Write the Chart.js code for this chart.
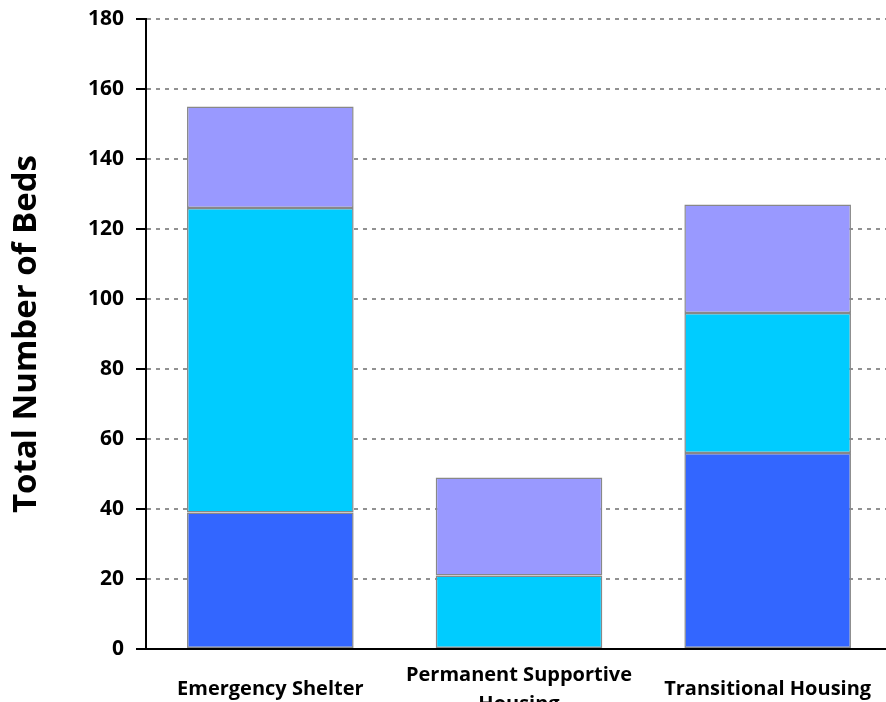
<!DOCTYPE html>
<html>
<head>
<meta charset="utf-8">
<script src="https://cdn.jsdelivr.net/npm/chart.js@4.4.1/dist/chart.umd.min.js"></script>
<style>
  html, body { margin: 0; padding: 0; background: #fff; overflow: hidden; }
  #wrap { width: 886px; height: 702px; overflow: hidden; position: relative; }
  #chart { position: absolute; left: 0; top: 0; }
</style>
</head>
<body>
<div id="wrap"><canvas id="chart" width="892" height="702" style="width:892px;height:702px"></canvas></div>
<script>
const categories = ["Emergency Shelter", ["Permanent Supportive", "Housing"], "Transitional Housing"];
const seriesA = [39, 0, 56];
const seriesB = [87, 21, 40];
const seriesC = [29, 28, 31];
const yTicks = [0, 20, 40, 60, 80, 100, 120, 140, 160, 180];

const font = "Open Sans";

new Chart(document.getElementById("chart"), {
  type: "bar",
  data: {
    labels: categories,
    datasets: [
      { data: seriesA, backgroundColor: "#3366FF" },
      { data: seriesB, backgroundColor: "#00CCFF" },
      { data: seriesC, backgroundColor: "#9999FF" },
    ].map(d => Object.assign(d, {
      borderColor: "#888888",
      borderWidth: 1.5,
      borderSkipped: false,
      barPercentage: 0.67,
      categoryPercentage: 1,
    })),
  },
  options: {
    responsive: false,
    animation: false,
    layout: { padding: { top: 19, left: 0, right: 0, bottom: 0 } },
    plugins: { legend: { display: false }, tooltip: { enabled: false } },
    scales: {
      x: {
        stacked: true,
        grid: { display: false, drawTicks: false },
        border: { display: true, color: "#000", width: 2 },
        afterFit: (axis) => { axis.height = 53; axis.paddingLeft = 0; axis.paddingRight = 0; },
        ticks: {
          color: "#000",
          font: { family: font, weight: "bold", size: 20, lineHeight: 1.45 },
          maxRotation: 0,
          autoSkip: false,
          crossAlign: "center",
          padding: 26,
        },
      },
      y: {
        stacked: true,
        min: 0,
        max: 180,
        afterBuildTicks: (axis) => { axis.ticks = yTicks.map(v => ({ value: v })); },
        afterFit: (axis) => { axis.width = 146; axis.paddingTop = 0; axis.paddingBottom = 0; },
        grid: {
          color: "#919191",
          lineWidth: 2,
          tickColor: "#000",
          tickLength: 10,
          tickWidth: 2,
          tickBorderDash: [],
        },
        border: { display: true, color: "#000", width: 2, dash: [4, 5] },
        ticks: {
          color: "#000",
          font: { family: font, weight: "bold", size: 21 },
          padding: 12,
        },
        title: {
          display: true,
          text: "Total Number of Beds",
          color: "#000",
          font: { family: font, weight: "bold", size: 33 },
          padding: { top: 7, bottom: 0 },
        },
      },
    },
  },
});
</script>
</body>
</html>
